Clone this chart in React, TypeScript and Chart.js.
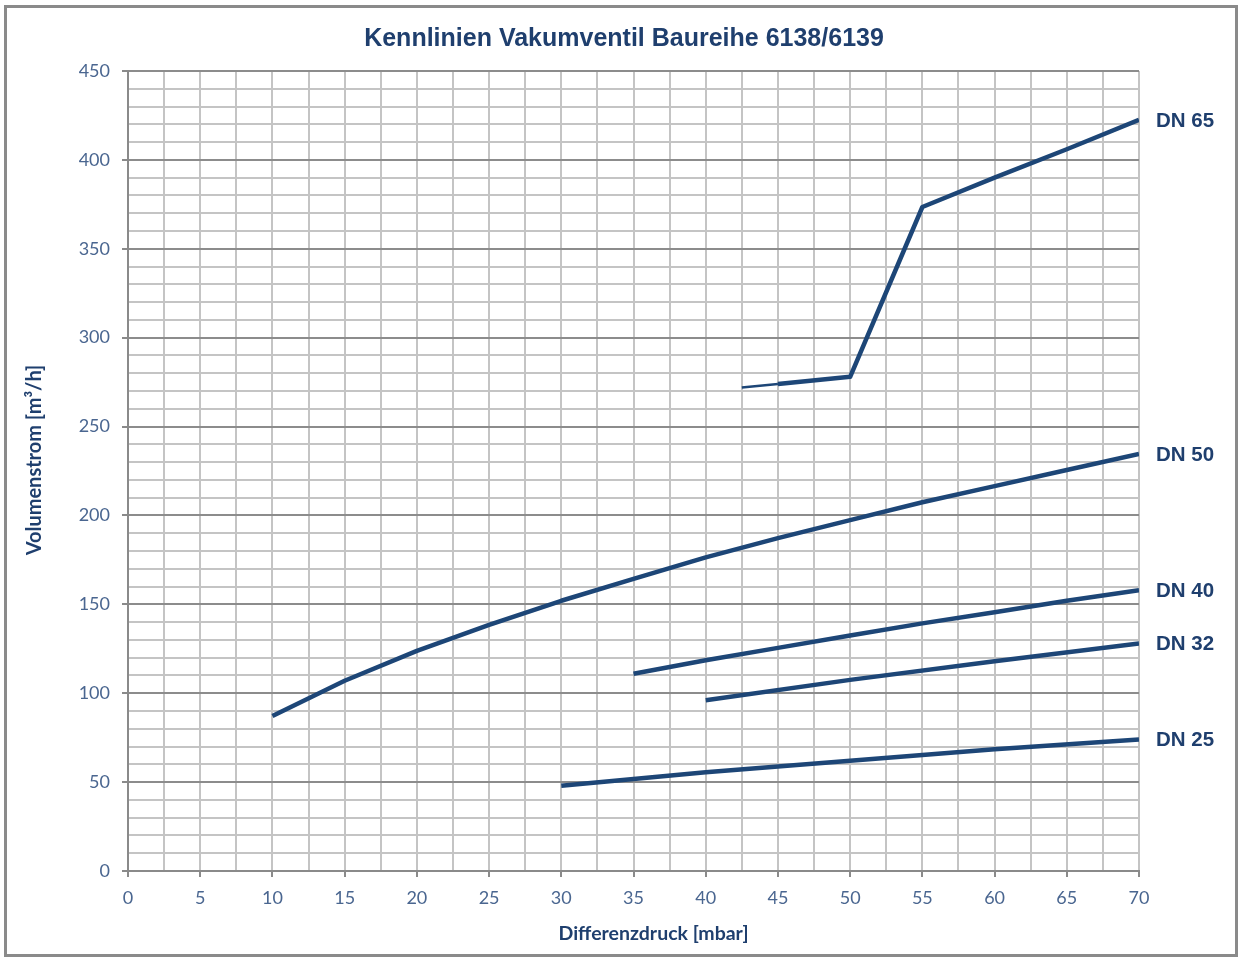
import React, { useEffect, useRef } from "react";
import { Chart, registerables } from "chart.js";

Chart.register(...registerables);

const TITLE = "Kennlinien Vakumventil Baureihe 6138/6139";
const X_TITLE = "Differenzdruck [mbar]";
const Y_TITLE = "Volumenstrom [m³/h]";

const dn65X = [42.5, 45, 50, 55, 60, 65, 70];
const dn65Y = [272, 274, 278, 373.5, 390, 406, 422.5];

const dn50X = [10, 15, 20, 25, 30, 35, 40, 45, 50, 55, 60, 65, 70];
const dn50Y = [87.2, 107, 123.8, 138.4, 152, 164.3, 176.4, 187.2, 197.4, 207.4, 216.5, 225.6, 234.6];

const dn40X = [35, 40, 45, 50, 55, 60, 65, 70];
const dn40Y = [111, 118.5, 125.5, 132.5, 139.3, 145.6, 152, 158];

const dn32X = [40, 50, 60, 70];
const dn32Y = [96, 107.5, 118, 128];

const dn25X = [30, 40, 50, 60, 70];
const dn25Y = [48, 55.5, 62, 68.5, 74];

const seriesNames = ["DN 65", "DN 50", "DN 40", "DN 32", "DN 25"];

const LINE = "#1d4677";
const TEXT_DARK = "#1f3f6e";
const TICK_TEXT = "#4a6690";

function pts(xs: number[], ys: number[]) {
  return xs.map((x, i) => ({ x, y: ys[i] }));
}

export default function App() {
  const ref = useRef<HTMLCanvasElement | null>(null);

  useEffect(() => {
    if (!ref.current) return;
    const all = [
      pts(dn65X, dn65Y),
      pts(dn50X, dn50Y),
      pts(dn40X, dn40Y),
      pts(dn32X, dn32Y),
      pts(dn25X, dn25Y),
    ];

    const deco = {
      id: "deco",
      beforeDraw(chart: any) {
        const c = chart.ctx;
        c.save();
        c.fillStyle = "#ffffff";
        c.fillRect(0, 0, chart.width, chart.height);
        c.restore();
      },
      afterDraw(chart: any) {
        const c = chart.ctx;
        const ca = chart.chartArea;
        const xs = chart.scales.x;
        const ys = chart.scales.y;
        c.save();
        // frame
        c.strokeStyle = "#8a8a8a";
        c.lineWidth = 3;
        c.strokeRect(5.5, 6.5, 1231, 949);
        // title
        c.fillStyle = TEXT_DARK;
        c.font = "bold 25px 'Liberation Sans', Arial, sans-serif";
        c.textAlign = "center";
        c.textBaseline = "middle";
        c.fillText(TITLE, 624, 39);
        // x title
        c.font = "bold 19.5px Lato, sans-serif";
        c.fillText(X_TITLE, (ca.left + ca.right) / 2 + 20, 934);
        // y title
        c.save();
        c.translate(35, (ca.top + ca.bottom) / 2 - 11);
        c.rotate(-Math.PI / 2);
        c.font = "bold 20px Lato, sans-serif";
        c.fillText(Y_TITLE, 0, 0);
        c.restore();
        // DN labels
        c.font = "bold 20.5px 'Liberation Sans', Arial, sans-serif";
        c.textAlign = "left";
        all.forEach((d, i) => {
          const last = d[d.length - 1];
          c.fillText(seriesNames[i], xs.getPixelForValue(last.x) + 17, ys.getPixelForValue(last.y) + 1);
        });
        c.restore();
      },
    };

    const chart = new Chart(ref.current, {
      type: "scatter",
      data: {
        datasets: all.map((d, i) => ({
          label: seriesNames[i],
          data: d,
          showLine: true,
          borderColor: LINE,
          backgroundColor: LINE,
          borderWidth: 4.5,
          pointRadius: 0,
          borderCapStyle: "butt",
          borderJoinStyle: "round",
          segment:
            i === 0
              ? { borderWidth: (ctx: any) => (ctx.p0DataIndex === 0 ? 2.5 : 4.5) }
              : undefined,
        })) as any,
      },
      options: {
        animation: false,
        responsive: true,
        maintainAspectRatio: false,
        layout: { padding: { top: 71, right: 102, bottom: 0, left: 0 } },
        plugins: {
          legend: { display: false },
          title: { display: false },
          tooltip: { enabled: false },
        },
        scales: {
          x: {
            type: "linear",
            min: 0,
            max: 70,
            afterFit: (s: any) => {
              s.height = 88;
            },
            ticks: {
              stepSize: 2.5,
              autoSkip: false,
              maxRotation: 0,
              padding: 10,
              color: TICK_TEXT,
              font: { family: "Lato, sans-serif", size: 18 },
              callback: (v: any) => (Number(v) % 5 === 0 ? String(v) : ""),
            },
            grid: {
              color: "#c4c4c4",
              lineWidth: 2,
              tickLength: 6,
              tickColor: (ctx: any) =>
                ctx.tick && ctx.tick.value % 5 === 0 ? "#8a8a8a" : "rgba(0,0,0,0)",
            },
            border: { color: "#8a8a8a", width: 2 },
          },
          y: {
            type: "linear",
            min: 0,
            max: 450,
            afterFit: (s: any) => {
              s.width = 128;
            },
            ticks: {
              stepSize: 10,
              autoSkip: false,
              padding: 12,
              color: TICK_TEXT,
              font: { family: "Lato, sans-serif", size: 18 },
              callback: (v: any) => (Number(v) % 50 === 0 ? String(v) : ""),
            },
            grid: {
              color: (ctx: any) =>
                ctx.tick && ctx.tick.value % 50 === 0 ? "#8c8c8c" : "#c4c4c4",
              lineWidth: 2,
              tickLength: 6,
              tickColor: (ctx: any) =>
                ctx.tick && ctx.tick.value % 50 === 0 ? "#8a8a8a" : "rgba(0,0,0,0)",
            },
            border: { color: "#8a8a8a", width: 2 },
          },
        },
      },
      plugins: [deco],
    });
    return () => chart.destroy();
  }, []);

  return (
    <div style={{ position: "fixed", left: 0, top: 0, width: 1241, height: 959, background: "#fff" }}>
      <canvas ref={ref} />
    </div>
  );
}
